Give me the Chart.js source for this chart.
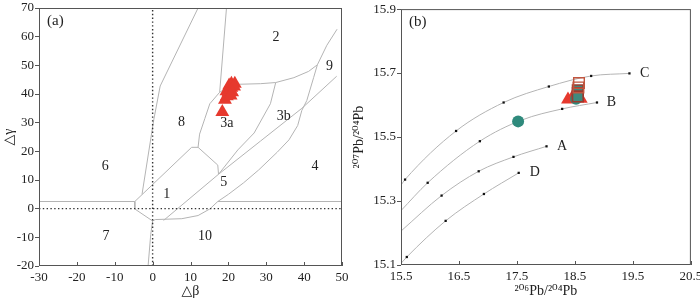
<!DOCTYPE html>
<html>
<head>
<meta charset="utf-8">
<script src="https://cdn.jsdelivr.net/npm/chart.js@4.4.0/dist/chart.umd.min.js"></script>
<style>
html, body { margin: 0; padding: 0; background: #fff; }
#wrap { position: relative; width: 700px; height: 298px; }
.box { position: absolute; top: 0; width: 350px; height: 298px; }
</style>
</head>
<body>
<div id="wrap">
  <div class="box" style="left:0"><canvas id="chartA"></canvas></div>
  <div class="box" style="left:350px"><canvas id="chartB"></canvas></div>
</div>
<script>
// ---- panel (a): Δβ - Δγ ----
const xTicksA = [-30, -20, -10, 0, 10, 20, 30, 40, 50];
const yTicksA = [-20, -10, 0, 10, 20, 30, 40, 50, 60, 70];

// field boundaries [Δβ, Δγ]
const edge68 = [[12, 70], [2, 42.8], [0.3, 31], [-2.8, 5]];
const edge28 = [[19.5, 70], [17.7, 40.6]];
const edge83a = [[17.7, 40.6], [15.1, 36.6], [13.8, 31.5], [12.4, 26], [12, 21.4]];
const edgePoly = [[-4.7, 2.5], [10.3, 21.4], [12, 21.4], [17.2, 15.2], [17.4, 12]];
const edgeLeft = [[-30, 2.5], [-4.7, 2.5], [-4.7, -0.1], [0, -4.3], [-0.5, -9], [-1.2, -20]];
const edgeOuter = [[0, -4.3], [0.7, -3.8], [7.7, -3.5], [12, -2.4], [15.1, -0.1], [17.2, 2.5], [20, 5],
  [24, 9], [28, 13.5], [32.9, 19.7], [36, 24], [38.3, 29], [39.4, 34.3], [40.7, 37.7], [42.5, 45.7],
  [43.5, 50.2], [46, 57], [48.7, 62.6]];
const edgeRight = [[17.2, 2.5], [50, 2.5]];
const edgeDiag = [[2.9, -4.1], [17.4, 12], [28.5, 23.6], [39.4, 35], [48.6, 46.2]];
const edge3a3b = [[17.4, 12], [22.5, 20.5], [26.8, 26.4], [31.1, 36.6], [32.5, 44]];
const edge3aTop = [[17.7, 40.6], [20, 42.5], [22.9, 43.4], [28.5, 43.6], [32.5, 44], [37.3, 45.7],
  [41.2, 47.9], [43.5, 50.2]];
const zeroV = [[0, -20], [0, 70]];
const zeroH = [[-30, 0], [50, 0]];

const samplesA = [[18.4, 33.7], [19.1, 38], [19.6, 39.2], [20.0, 40.5], [19.5, 41], [20.4, 41.5],
  [20.8, 42.2], [20.2, 43], [20.8, 43.6], [21.7, 43.6], [21.5, 42.6], [21.0, 40.6], [20.6, 39.5]];

const fieldNames = ['1', '2', '3a', '3b', '4', '5', '6', '7', '8', '9', '10'];
const fieldAt = [[3.7, 5.1], [32.6, 59.7], [19.6, 29.8], [34.6, 32.2], [42.9, 14.9], [18.8, 9.2],
  [-12.5, 14.9], [-12.3, -9.8], [7.6, 30.2], [46.7, 49.8], [13.8, -9.8]];

// ---- panel (b): 206Pb/204Pb - 207Pb/204Pb ----
const xTicksB = [15.5, 16.5, 17.5, 18.5, 19.5, 20.5];
const yTicksB = [15.1, 15.3, 15.5, 15.7, 15.9];

const curveA = [[15.5, 15.206], [16.2, 15.317], [16.84, 15.393], [17.44, 15.438], [18.01, 15.471]];
const curveB = [[15.5, 15.27], [15.96, 15.357], [16.86, 15.487], [17.58, 15.553], [18.28, 15.588], [18.88, 15.608]];
const curveC = [[15.5, 15.35], [15.57, 15.367], [16.45, 15.519], [17.27, 15.608], [18.05, 15.658], [18.78, 15.691], [19.44, 15.699]];
const curveD = [[15.5, 15.105], [15.6, 15.125], [16.27, 15.238], [16.93, 15.322], [17.53, 15.388]];
const curveNames = ['A', 'B', 'C', 'D'];
const curveNameAt = [[18.19, 15.47], [19.05, 15.61], [19.62, 15.70], [17.72, 15.39]];

const triB = [[18.38, 15.617], [18.45, 15.622], [18.52, 15.625], [18.6, 15.62], [18.5, 15.632]];
const circB = [[17.52, 15.549], [18.52, 15.62]];
const sqOpenB = [[18.57, 15.669], [18.56, 15.655]];
const sqFillB = [[18.55, 15.646], [18.55, 15.637], [18.55, 15.627]];

const pts = arr => arr.map(p => ({x: p[0], y: p[1]}));

Chart.defaults.font.family = '"Liberation Serif", "DejaVu Serif", serif';
Chart.defaults.font.size = 13;
Chart.defaults.color = '#222';

const extras = {
  id: 'extras',
  afterDatasetsDraw(chart, args, opts) {
    const {ctx, chartArea: a, scales: {x, y}} = chart;
    ctx.save();
    ctx.strokeStyle = '#555';
    ctx.lineWidth = 1;
    ctx.strokeRect(a.left + 0.5, a.top + 0.5, a.width - 1, a.height - 1);
    // inward ticks on the bottom axis
    x.ticks.forEach(t => {
      const px = Math.round(x.getPixelForValue(t.value)) + 0.5;
      ctx.beginPath();
      ctx.moveTo(px, a.bottom);
      ctx.lineTo(px, a.bottom - 4);
      ctx.stroke();
    });
    ctx.fillStyle = '#222';
    ctx.font = '14px "Liberation Serif", serif';
    ctx.textBaseline = 'middle';
    ctx.textAlign = opts.align;
    opts.names.forEach((n, i) => {
      ctx.fillText(n, x.getPixelForValue(opts.at[i][0]), y.getPixelForValue(opts.at[i][1]));
    });
    ctx.textAlign = 'left';
    ctx.font = '15px "Liberation Serif", serif';
    ctx.fillText(opts.panel, a.left + 8, a.top + 13);
    ctx.restore();
  }
};

function axes(xt, yt, yw, xh, xTitle, yTitle, fmt) {
  return {
    x: {
      type: 'linear', min: xt[0], max: xt[xt.length - 1],
      afterBuildTicks: s => { s.ticks = xt.map(v => ({value: v})); },
      afterFit: s => { s.height = xh; s.paddingLeft = 0; s.paddingRight = 0; },
      grid: {display: false, drawTicks: false},
      border: {display: false},
      ticks: {padding: 4, maxRotation: 0, autoSkip: false, callback: v => fmt(v)},
      title: {display: true, text: xTitle, font: {size: 14, lineHeight: 1}, padding: 0, color: '#222'}
    },
    y: {
      type: 'linear', min: yt[0], max: yt[yt.length - 1],
      afterBuildTicks: s => { s.ticks = yt.map(v => ({value: v})); },
      afterFit: s => { s.width = yw; s.paddingTop = 0; s.paddingBottom = 0; },
      grid: {drawOnChartArea: false, tickLength: 4, color: '#555'},
      border: {display: false},
      ticks: {padding: 1, autoSkip: false, callback: v => fmt(v)},
      title: {display: true, text: yTitle, font: {size: 14}, padding: {top: 1, bottom: 0}, color: '#222'}
    }
  };
}

const lineStyle = {showLine: true, pointRadius: 0, borderColor: '#b4b4b4', borderWidth: 1, fill: false, order: 10};

const edgesA = [edge68, edge28, edge83a, edgePoly, edgeLeft, edgeOuter, edgeRight, edgeDiag, edge3a3b, edge3aTop];

new Chart('chartA', {
  type: 'scatter',
  data: {
    datasets: [
      {data: pts(samplesA), pointStyle: 'triangle', pointRadius: 8, backgroundColor: '#e6392e', borderWidth: 0, order: 0},
      ...edgesA.map(e => Object.assign({data: pts(e)}, lineStyle)),
      {data: pts(zeroV), showLine: true, pointRadius: 0, borderColor: '#333', borderWidth: 1.4, borderDash: [1.4, 2.4], order: 5},
      {data: pts(zeroH), showLine: true, pointRadius: 0, borderColor: '#333', borderWidth: 1.4, borderDash: [1.4, 2.4], order: 5}
    ]
  },
  options: {
    responsive: true, maintainAspectRatio: false, animation: false,
    devicePixelRatio: 1,
    layout: {padding: {top: 2, right: 5, left: 0, bottom: 0}},
    scales: axes(xTicksA, yTicksA, 39, 32, '\u25B3\u03B2', '\u25B3\u03B3', v => String(v)),
    plugins: {
      legend: {display: false}, tooltip: {enabled: false},
      extras: {names: fieldNames, at: fieldAt, align: 'center', panel: '(a)'}
    }
  },
  plugins: [extras]
});

const curveStyle = {
  showLine: true, borderColor: '#b4b4b4', borderWidth: 1, cubicInterpolationMode: 'monotone',
  pointStyle: 'rect', pointBackgroundColor: '#111', pointBorderWidth: 0,
  pointRadius: c => c.dataIndex === 0 ? 0 : 1.6, order: 10
};

new Chart('chartB', {
  type: 'scatter',
  data: {
    datasets: [
      {data: pts(sqOpenB), pointStyle: 'rect', pointRadius: 7.5, backgroundColor: 'rgba(0,0,0,0)', borderColor: '#c1553f', borderWidth: 1.4, order: 0},
      {data: pts(sqFillB), pointStyle: 'rect', pointRadius: 7.5, backgroundColor: '#3f8a7e', borderColor: '#9b3a2e', borderWidth: 1.6, order: 1},
      {data: pts(circB), pointStyle: 'circle', pointRadius: 6, backgroundColor: '#2f8a7c', borderWidth: 0, order: 2},
      {data: pts(triB), pointStyle: 'triangle', pointRadius: 8, backgroundColor: '#e6392e', borderWidth: 0, order: 3},
      ...[curveA, curveB, curveC, curveD].map(c => Object.assign({data: pts(c)}, curveStyle))
    ]
  },
  options: {
    responsive: true, maintainAspectRatio: false, animation: false,
    devicePixelRatio: 1,
    layout: {padding: {top: 2, right: 2, left: 0, bottom: 0}},
    scales: axes(xTicksB, yTicksB, 51, 33, '\u00B2\u2070\u2076Pb/\u00B2\u2070\u2074Pb', '\u00B2\u2070\u2077Pb/\u00B2\u2070\u2074Pb', v => v.toFixed(1)),
    plugins: {
      legend: {display: false}, tooltip: {enabled: false},
      extras: {names: curveNames, at: curveNameAt, align: 'left', panel: '(b)'}
    }
  },
  plugins: [extras]
});
</script>
</body>
</html>
